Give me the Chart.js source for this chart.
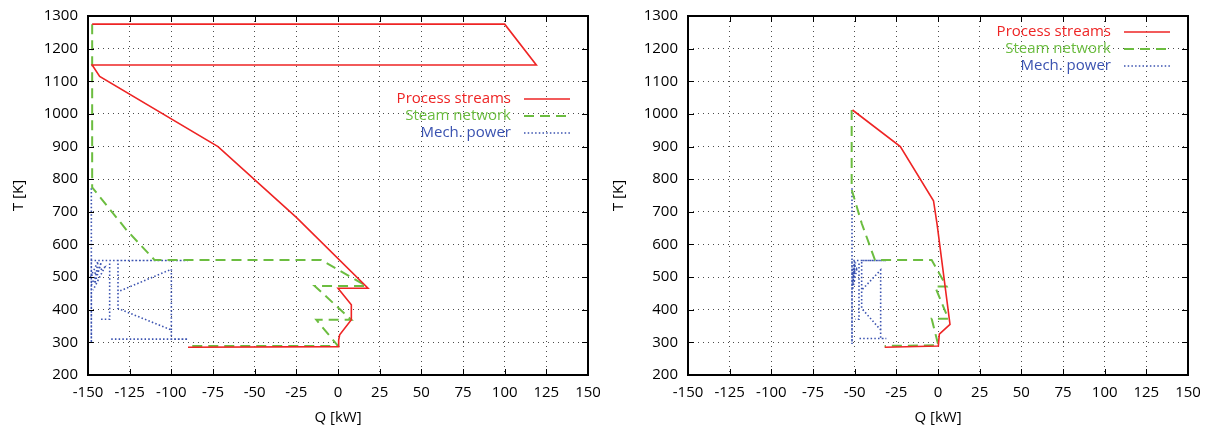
<!DOCTYPE html>
<html>
<head>
<meta charset="utf-8">
<script src="https://cdn.jsdelivr.net/npm/chart.js@4.4.1/dist/chart.umd.min.js"></script>
<style>
  html, body { margin: 0; padding: 0; background: #fff; }
  #wrap { position: relative; width: 1212px; height: 433px; }
  .box { position: absolute; top: 0; width: 600px; height: 433px; }
</style>
</head>
<body>
<div id="wrap">
  <div class="box" style="left:0"><canvas id="left" width="600" height="433"></canvas></div>
  <div class="box" style="left:600px"><canvas id="right" width="600" height="433"></canvas></div>
</div>
<script>
// left panel
const leftProcessQ = [-147.5, 100, 119, -147.5, -143, -72, -25, 18, 0, 8, 8, 1, 0.4, 0.4, -90];
const leftProcessT = [1275, 1275, 1150, 1150, 1115, 900, 683, 466, 466, 415, 369, 323, 307, 287, 285];
const leftSteamQ = [-147.5, -147.5, -127, -110, -10, 17, -14, 8, -13, 0, -90];
const leftSteamT = [1275, 775, 645, 552, 552, 473, 473, 369, 369, 289, 289];
const leftPowerQ = [-148, -148, -148, -90, -132, -132, -100, -100, -90, -137, null,
  -100, -100, -132, null, -137, -137, -143, null, -148, -142, -146, -144, -148, -140, -147];
const leftPowerT = [772, 298, 551, 551, 551, 404, 338, 310, 310, 310, null,
  338, 524, 455, null, 542, 371, 371, null, 475, 545, 480, 548, 505, 530, 460];

// right panel
const rightProcessQ = [-51.3, -22.6, -2.7, -0.5, 7.2, 0.8, 0.2, -32];
const rightProcessT = [1012, 900, 734, 660, 355, 325, 289, 285];
const rightSteamQ = [-51.8, -51.8, -45.8, -37.8, -3.8, 5.2, -1.8, 6.2, -3.8, 0.2, -32];
const rightSteamT = [1012, 768, 665, 552, 552, 471, 471, 372, 372, 291, 289];
const rightPowerQ = [-51.6, -51.6, -51.6, -31, -45.8, -45.8, -34.4, -34.4, -31, -47.2, null,
  -34.4, -34.4, -45.8, null, -47.4, -47.4, -49.7, null, -51.6, -49.5, -51, -50, -51.6, -48.5, -51.3];
const rightPowerT = [772, 295, 551, 551, 551, 404, 338, 312, 312, 312, null,
  338, 522, 460, null, 542, 371, 371, null, 475, 545, 480, 548, 505, 530, 460];

const seriesLabels = ["Process streams", "Steam network", "Mech. power"];
const qRange = [-150, 150];
const tRange = [200, 1300];

const RED = "#ee2424";
const GREEN = "#6cbd40";
const BLUE = "#3a52b0";
const FONT = '"Open Sans", "DejaVu Sans", sans-serif';

function toPoints(qs, ts) {
  return qs.map((q, i) => ({ x: q, y: ts[i] }));
}

// gnuplot look: mirrored inward ticks, full frame, key with text left of sample
const gnuplotFrame = {
  id: "gnuplotFrame",
  afterDraw(chart, args, opts) {
    const { ctx, chartArea: a, scales } = chart;
    const x = scales.x, y = scales.y;
    ctx.save();
    ctx.strokeStyle = "#000";
    ctx.lineWidth = 1;
    ctx.beginPath();
    x.ticks.forEach((t) => {
      const px = Math.round(x.getPixelForValue(t.value)) + 0.5;
      ctx.moveTo(px, a.top); ctx.lineTo(px, a.top + 6);
      ctx.moveTo(px, a.bottom); ctx.lineTo(px, a.bottom - 6);
    });
    y.ticks.forEach((t) => {
      const py = Math.round(y.getPixelForValue(t.value)) + 0.5;
      ctx.moveTo(a.left, py); ctx.lineTo(a.left + 6, py);
      ctx.moveTo(a.right, py); ctx.lineTo(a.right - 6, py);
    });
    ctx.stroke();
    ctx.lineWidth = 2;
    ctx.strokeRect(a.left, a.top, a.right - a.left, a.bottom - a.top);

    ctx.font = "15px " + FONT;
    ctx.textAlign = "right";
    ctx.textBaseline = "middle";
    chart.data.datasets.forEach((ds, i) => {
      const yy = a.top + opts.top + i * 17;
      ctx.fillStyle = ds.borderColor;
      ctx.fillText(ds.label, a.right - 77, yy);
      ctx.strokeStyle = ds.borderColor;
      ctx.lineWidth = ds.borderWidth;
      ctx.setLineDash(ds.borderDash || []);
      ctx.beginPath();
      ctx.moveTo(a.right - 64, yy);
      ctx.lineTo(a.right - 18, yy);
      ctx.stroke();
    });
    ctx.restore();
  },
};

function makeChart(id, process, steam, power, legendTop) {
  const gridStyle = {
    color: "rgba(0,0,0,0.7)",
    lineWidth: 1,
    drawTicks: false,
  };
  const tickFont = { family: FONT, size: 15 };
  return new Chart(document.getElementById(id), {
    type: "scatter",
    data: {
      datasets: [
        { label: seriesLabels[0], data: process, borderColor: RED, borderWidth: 1.6 },
        { label: seriesLabels[1], data: steam, borderColor: GREEN, borderWidth: 2, borderDash: [10, 6] },
        { label: seriesLabels[2], data: power, borderColor: BLUE, borderWidth: 1.6, borderDash: [1.5, 2.2] },
      ].map((ds) => ({ ...ds, showLine: true, pointRadius: 0, tension: 0, spanGaps: false, fill: false })),
    },
    options: {
      responsive: false,
      animation: false,
      layout: { padding: { top: 16, right: 12, left: 0, bottom: 0 } },
      plugins: {
        legend: { display: false },
        tooltip: { enabled: false },
        gnuplotFrame: { top: legendTop },
      },
      scales: {
        x: {
          type: "linear",
          min: qRange[0],
          max: qRange[1],
          ticks: {
            stepSize: 25,
            padding: 9,
            color: "#000",
            font: tickFont,
            callback: (v) => String(v),
          },
          grid: gridStyle,
          border: { display: false, dash: [1, 4] },
          title: { display: true, text: "Q [kW]", color: "#000", font: tickFont, padding: { top: 0, bottom: 6 } },
          afterFit: (s) => { s.height = 58; s.paddingLeft = 0; s.paddingRight = 0; },
        },
        y: {
          type: "linear",
          min: tRange[0],
          max: tRange[1],
          ticks: {
            stepSize: 100,
            padding: 10,
            color: "#000",
            font: tickFont,
            callback: (v) => String(v),
          },
          grid: gridStyle,
          border: { display: false, dash: [1, 4] },
          title: { display: true, text: "T [K]", color: "#000", font: tickFont, padding: { top: 10, bottom: 0 } },
          afterFit: (s) => { s.width = 88; s.paddingTop = 0; s.paddingBottom = 0; },
        },
      },
    },
    plugins: [gnuplotFrame],
  });
}

makeChart("left",
  toPoints(leftProcessQ, leftProcessT),
  toPoints(leftSteamQ, leftSteamT),
  toPoints(leftPowerQ, leftPowerT),
  83);
makeChart("right",
  toPoints(rightProcessQ, rightProcessT),
  toPoints(rightSteamQ, rightSteamT),
  toPoints(rightPowerQ, rightPowerT),
  16);
</script>
</body>
</html>
